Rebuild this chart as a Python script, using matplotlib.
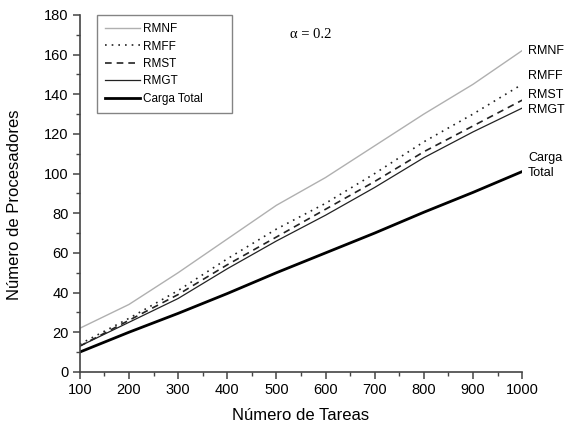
import matplotlib.pyplot as plt
from matplotlib.ticker import MultipleLocator

# Datos (alpha = 0.2)
tareas = [100, 200, 300, 400, 500, 600, 700, 800, 900, 1000]
rmnf = [22, 34, 50, 67, 84, 98, 114, 130, 145, 162]
rmff = [14, 27, 41, 57, 72, 85, 100, 116, 130, 145]
rmst = [13, 26, 39, 54, 68, 82, 96, 111, 124, 137]
rmgt = [13, 25, 37, 52, 66, 79, 93, 108, 121, 133]
carga_total = [10, 20, 29.5, 39.5, 50, 60, 70, 80.5, 90.5, 101]

plt.rcParams['font.family'] = ['Liberation Sans', 'DejaVu Sans']

fig = plt.figure(figsize=(5.70, 4.26), dpi=100)
ax = fig.add_axes([0.140, 0.127, 0.776, 0.838])

ax.plot(tareas, rmnf, color='#b0b0b0', lw=1.0, label='RMNF')
ax.plot(tareas, rmff, color='#222222', lw=1.2, ls=(0, (1, 3)), label='RMFF')
ax.plot(tareas, rmst, color='#222222', lw=1.2, ls=(0, (4, 3)), label='RMST')
ax.plot(tareas, rmgt, color='#222222', lw=0.9, label='RMGT')
ax.plot(tareas, carga_total, color='black', lw=2.0, label='Carga Total')

ax.set_xlim(100, 1000)
ax.set_ylim(0, 180)
ax.xaxis.set_major_locator(MultipleLocator(100))
ax.xaxis.set_minor_locator(MultipleLocator(50))
ax.yaxis.set_major_locator(MultipleLocator(20))
ax.yaxis.set_minor_locator(MultipleLocator(10))

for s in ['top', 'right']:
    ax.spines[s].set_visible(False)
for s in ['left', 'bottom']:
    ax.spines[s].set_color('#444444')
    ax.spines[s].set_linewidth(1.2)

ax.tick_params(which='major', direction='out', length=5, width=1.1,
               color='#444444', labelsize=10.5, pad=3)
ax.tick_params(which='minor', direction='out', length=3, width=1.0,
               color='#444444')

ax.set_xlabel('Número de Tareas', fontsize=12, labelpad=8)
ax.set_ylabel('Número de Procesadores', fontsize=12)
ax.yaxis.set_label_coords(-0.131, 0.468)

leg = ax.legend(loc='upper left', bbox_to_anchor=(0.038, 0, 0.305, 1.0),
                mode='expand', borderaxespad=0, fontsize=8.5,
                frameon=True, fancybox=False, handlelength=3.0,
                handletextpad=0.2, labelspacing=0.46, borderpad=0.7)
leg.get_frame().set_edgecolor('#666666')
leg.get_frame().set_linewidth(1.0)

ax.text(0.475, 0.935, 'α = 0.2', transform=ax.transAxes,
        fontsize=10.5, family='Liberation Serif')

# etiquetas a la derecha de cada curva
x_lab = tareas[-1] + 12
ax.text(x_lab, rmnf[-1], 'RMNF', fontsize=9, va='center', clip_on=False)
ax.text(x_lab, rmff[-1] + 4, 'RMFF', fontsize=9, va='center', clip_on=False)
ax.text(x_lab, rmst[-1] + 2.5, 'RMST', fontsize=9, va='center', clip_on=False)
ax.text(x_lab, rmgt[-1] - 1, 'RMGT', fontsize=9, va='center', clip_on=False)
ax.text(x_lab, carga_total[-1] + 3, 'Carga\nTotal', fontsize=9, va='center',
        linespacing=1.4, clip_on=False)

fig.savefig('out.png', dpi=100)
